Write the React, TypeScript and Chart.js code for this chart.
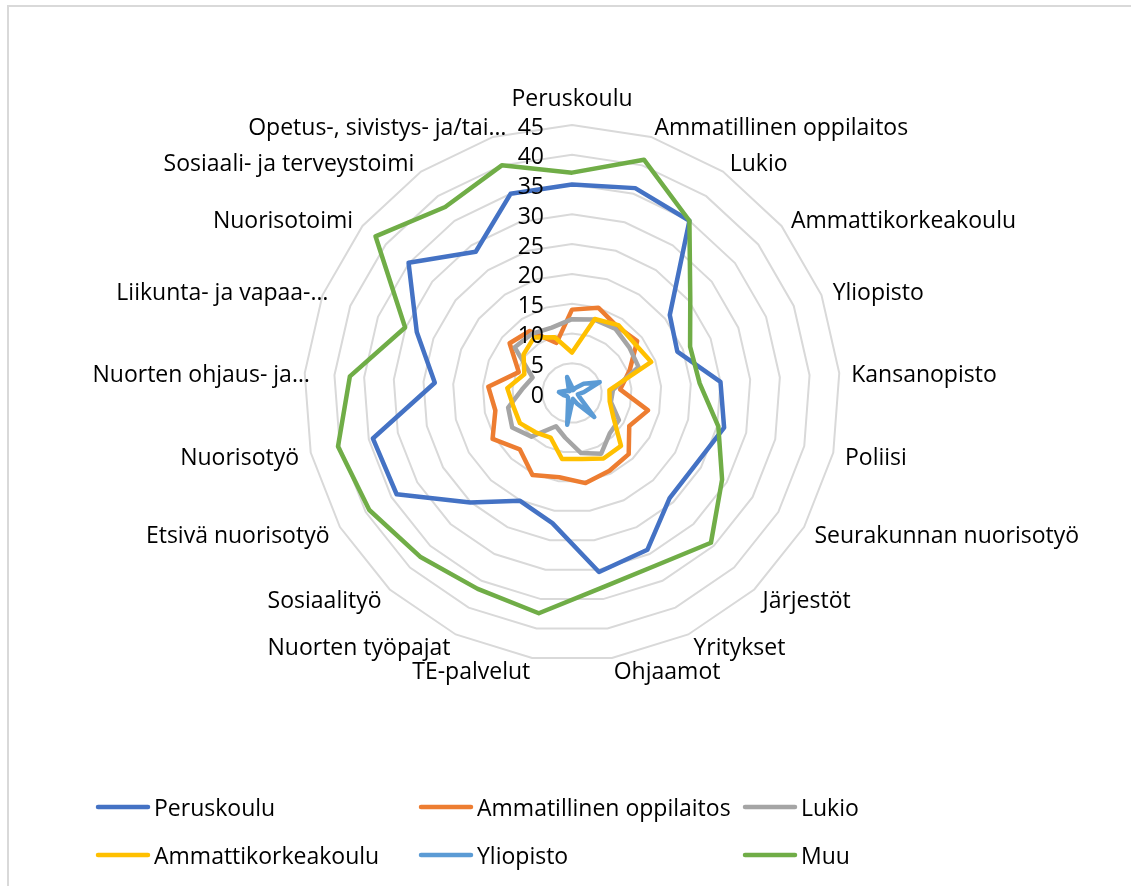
import React, { useEffect, useRef } from 'react';
import { Chart, registerables } from 'chart.js';

Chart.register(...registerables);

const categories = [
  'Peruskoulu',
  'Ammatillinen oppilaitos',
  'Lukio',
  'Ammattikorkeakoulu',
  'Yliopisto',
  'Kansanopisto',
  'Poliisi',
  'Seurakunnan nuorisotyö',
  'Järjestöt',
  'Yritykset',
  'Ohjaamot',
  'TE-palvelut',
  'Nuorten työpajat',
  'Sosiaalityö',
  'Etsivä nuorisotyö',
  'Nuorisotyö',
  'Nuorten ohjaus- ja…',
  'Liikunta- ja vapaa-…',
  'Nuorisotoimi',
  'Sosiaali- ja terveystoimi',
  'Opetus-, sivistys- ja/tai…',
];

const seriesNames = ['Peruskoulu', 'Ammatillinen oppilaitos', 'Lukio', 'Ammattikorkeakoulu', 'Yliopisto', 'Muu'];
const seriesColors = ['#4472C4', '#ED7D31', '#A5A5A5', '#FFC000', '#5B9BD5', '#70AD47'];

const peruskoulu = [35, 36, 35, 21, 19, 25, 26.2, 24, 24.1, 29.2, 30.4, 22.1, 20.1, 25.1, 34, 34.3, 23.1, 28, 35.1, 28.7, 35];
const ammatillinen = [14, 15, 13.5, 14, 10.4, 8.1, 13.1, 11.1, 14, 14.5, 15.3, 14.3, 15.3, 12.9, 15.4, 13.2, 14.1, 9.6, 13.4, 12.6, 8.8];
const lukio = [12.4, 12.9, 13, 12.3, 12, 6.9, 6.7, 9.1, 9.3, 11.3, 10.2, 7.6, 6.2, 10, 11.6, 11, 8.4, 7.1, 12.3, 12, 11.5];
const ammattikorkeakoulu = [6.8, 13, 13.8, 13.4, 14.3, 6.3, 6.5, 8, 12.1, 12.2, 11.2, 11.2, 8.3, 9, 10.1, 10.1, 10.9, 8.6, 10.4, 11.3, 9.8];
const yliopisto = [1, 0.5, 1, 2.5, 5, 2, 1, 1.5, 5.5, 2, 1, 5.4, 1.5, 1, 1, 1.5, 2.2, 1, 0.5, 1, 2.8];
const muu = [37, 41, 35, 25.4, 21.3, 21.5, 25.2, 29.1, 34.3, 32.2, 33.1, 37.4, 36.5, 37.5, 39.3, 40.3, 37.4, 30.1, 42.2, 37.8, 40];

const seriesValues = [peruskoulu, ammatillinen, lukio, ammattikorkeakoulu, yliopisto, muu];

const tickValues = [0, 5, 10, 15, 20, 25, 30, 35, 40, 45];

const FONT = '"Open Sans", "Liberation Sans", sans-serif';
const FONT_SIZE = 23;

const labelPlugin = {
  id: 'customLabels',
  afterDatasetsDraw(chart: any) {
    const scale = chart.scales.r;
    const ctx = chart.ctx;
    ctx.save();
    ctx.font = `${FONT_SIZE}px ${FONT}`;
    ctx.fillStyle = '#000000';

    // radial tick labels, left of the vertical axis
    ctx.textAlign = 'right';
    ctx.textBaseline = 'middle';
    tickValues.forEach((v) => {
      const d = scale.getDistanceFromCenterForValue(v);
      ctx.fillText(String(v), scale.xCenter - 28, scale.yCenter - d + 3);
    });

    // category labels
    const labelDist = scale.drawingArea + 12;
    const labels: string[] = chart.data.labels;
    labels.forEach((lab, i) => {
      const ang = scale.getIndexAngle(i);
      const sx = Math.sin(ang);
      const sy = -Math.cos(ang);
      let x = scale.xCenter + sx * labelDist;
      let y = scale.yCenter + sy * labelDist;
      if (Math.abs(sx) < 0.01) {
        ctx.textAlign = 'center';
        ctx.textBaseline = 'alphabetic';
        y -= 7;
      } else {
        ctx.textAlign = sx > 0 ? 'left' : 'right';
        ctx.textBaseline = 'middle';
        y += 3;
        if (sx < 0 && lab.endsWith('…')) x += 17;
      }
      ctx.fillText(lab, x, y);
    });
    ctx.restore();
  },
  afterDraw(chart: any) {
    const ctx = chart.ctx;
    ctx.save();
    ctx.font = `${FONT_SIZE}px ${FONT}`;
    ctx.textAlign = 'left';
    ctx.textBaseline = 'middle';
    const cols = [96, 419, 743];
    const rows = [807, 855];
    chart.data.datasets.forEach((ds: any, i: number) => {
      const x = cols[i % 3];
      const y = rows[Math.floor(i / 3)];
      ctx.strokeStyle = ds.borderColor;
      ctx.lineWidth = 4.5;
      ctx.lineCap = 'round';
      ctx.beginPath();
      ctx.moveTo(x + 2, y);
      ctx.lineTo(x + 52, y);
      ctx.stroke();
      ctx.fillStyle = '#000000';
      ctx.fillText(ds.label, x + 58, y + 2);
    });
    ctx.restore();
  },
};

export default function App() {
  const canvasRef = useRef<HTMLCanvasElement | null>(null);

  useEffect(() => {
    const canvas = canvasRef.current;
    if (!canvas) return;
    const chart = new Chart(canvas, {
      type: 'radar',
      data: {
        labels: categories,
        datasets: seriesNames.map((name, i) => ({
          label: name,
          data: seriesValues[i],
          borderColor: seriesColors[i],
          backgroundColor: 'transparent',
          borderWidth: 4.5,
          borderJoinStyle: 'round' as const,
          pointRadius: 0,
          pointHoverRadius: 0,
          fill: false,
          tension: 0,
          order: seriesNames.length - 1 - i,
        })),
      },
      options: {
        responsive: false,
        animation: false,
        devicePixelRatio: 1,
        layout: { padding: { left: 304, right: 291, top: 125, bottom: 225 } },
        plugins: {
          legend: { display: false },
          tooltip: { enabled: false },
          title: { display: false },
        },
        scales: {
          r: {
            min: 0,
            max: 45,
            beginAtZero: true,
            ticks: { display: false, stepSize: 5 },
            grid: { color: '#d9d9d9', lineWidth: 2, circular: false },
            angleLines: { display: false },
            pointLabels: { display: false },
          },
        },
      },
      plugins: [labelPlugin],
    });
    return () => chart.destroy();
  }, []);

  return (
    <div
      style={{
        position: 'absolute',
        left: 0,
        top: 0,
        width: 1131,
        height: 886,
        overflow: 'hidden',
        background: '#ffffff',
      }}
    >
      <div
        style={{
          position: 'absolute',
          left: 7,
          top: 5,
          width: 1200,
          height: 1000,
          borderLeft: '2px solid #d9d9d9',
          borderTop: '2px solid #d9d9d9',
        }}
      />
      <canvas
        ref={canvasRef}
        width={1131}
        height={886}
        style={{ position: 'absolute', left: 0, top: 0, width: 1131, height: 886 }}
      />
    </div>
  );
}
